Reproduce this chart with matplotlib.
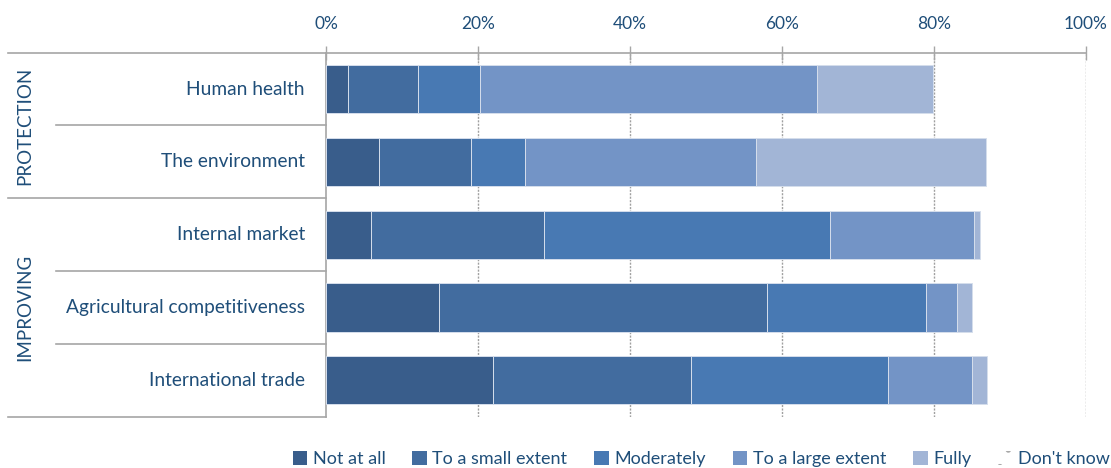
import matplotlib
matplotlib.use("Agg")
import matplotlib.pyplot as plt
import matplotlib.transforms as mtransforms
from matplotlib.patches import Patch
import numpy as np

plt.rcParams['font.family'] = ['Lato', 'DejaVu Sans']
plt.rcParams['hatch.linewidth'] = 1.5

categories = ["Human health", "The environment", "Internal market",
              "Agricultural competitiveness", "International trade"]
groups = ["PROTECTION", "IMPROVING"]
group_sizes = [2, 3]
series = ["Not at all", "To a small extent", "Moderately",
          "To a large extent", "Fully", "Don't know"]
not_at_all = [2.9, 7.0, 5.9, 14.9, 22.0]
small_extent = [9.2, 12.1, 22.8, 43.1, 26.0]
moderately = [8.1, 7.1, 37.6, 21.0, 26.0]
large_extent = [44.4, 30.4, 18.9, 4.0, 11.0]
fully = [15.3, 30.2, 0.9, 2.0, 2.0]
dont_know = [20.1, 13.2, 13.9, 15.0, 13.0]
xticks = [0, 20, 40, 60, 80, 100]
xtick_labels = ["0%", "20%", "40%", "60%", "80%", "100%"]

colors = ["#395D8B", "#426C9F", "#4879B3", "#7394C6", "#A2B5D6", "white"]
text_color = "#1F4E79"
line_color = "#A6A6A6"

W, H = 1111, 468
fig = plt.figure(figsize=(W / 100, H / 100), dpi=100)
x0, x1 = 326, 1086
y0, y1 = 52.7, 416.7
ax = fig.add_axes([x0 / W, 1 - y1 / H, (x1 - x0) / W, (y1 - y0) / H])

data = [not_at_all, small_extent, moderately, large_extent, fully, dont_know]
ypos = np.arange(len(categories)) + 0.5
left = np.zeros(len(categories))
for i, (name, vals) in enumerate(zip(series, data)):
    vals = np.array(vals)
    if name == "Don't know":
        ax.barh(ypos, vals, left=left, height=0.66, fill=False,
                edgecolor="none", zorder=1)
    else:
        ax.barh(ypos, vals, left=left, height=0.66, color=colors[i],
                edgecolor="#D5DEEC", linewidth=0.7, zorder=3)
    left += vals

ax.set_xlim(0, 100)
ax.set_ylim(len(categories), 0)
ax.xaxis.tick_top()
ax.set_xticks(xticks)
ax.set_xticklabels(xtick_labels, color=text_color, fontsize=12.5)
ax.tick_params(axis='x', direction='inout', length=10, width=1,
               color=line_color, pad=10)
ax.set_yticks([])
for g in xticks[1:]:
    ax.axvline(g, color="#A0A0A0", linestyle=(0, (1.5, 1.0)), linewidth=1.0,
               zorder=0)

for s in ["right", "bottom"]:
    ax.spines[s].set_visible(False)
for s in ["top", "left"]:
    ax.spines[s].set_color(line_color)
    ax.spines[s].set_linewidth(1.2)

trans = mtransforms.blended_transform_factory(ax.transAxes, ax.transData)
ax_w = x1 - x0
def ax_x(px):
    return (px - x0) / ax_w

# category labels
for yc, cat in zip(ypos, categories):
    ax.text(ax_x(305), yc, cat, transform=trans, ha='right', va='center',
            color=text_color, fontsize=13.8)

# separator lines
boundaries = list(range(len(categories) + 1))
group_bounds = [0] + list(np.cumsum(group_sizes))
for b in boundaries:
    start = 8 if b in group_bounds else 56
    ax.plot([ax_x(start), 0], [b, b], transform=trans, color=line_color,
            linewidth=1.2, clip_on=False, zorder=5)

# group labels
for gname, gs, ge in zip(groups, group_bounds[:-1], group_bounds[1:]):
    ax.text(ax_x(25), (gs + ge) / 2, gname, transform=trans, rotation=90,
            ha='center', va='center', color=text_color, fontsize=13.5)

handles = []
for i, name in enumerate(series):
    if name == "Don't know":
        handles.append(Patch(facecolor="white", edgecolor="#A8A8A8",
                             hatch=".", linewidth=0, label=name))
    else:
        handles.append(Patch(facecolor=colors[i], edgecolor="none", label=name))
leg = fig.legend(handles=handles, loc='center right',
                 bbox_to_anchor=(1110 / W, 1 - 459 / H), ncol=6, frameon=False,
                 fontsize=13, handlelength=0.8, handleheight=0.8,
                 handletextpad=0.3, columnspacing=1.5, borderpad=0,
                 borderaxespad=0)
for t in leg.get_texts():
    t.set_color(text_color)

fig.savefig("out.png", dpi=100)
